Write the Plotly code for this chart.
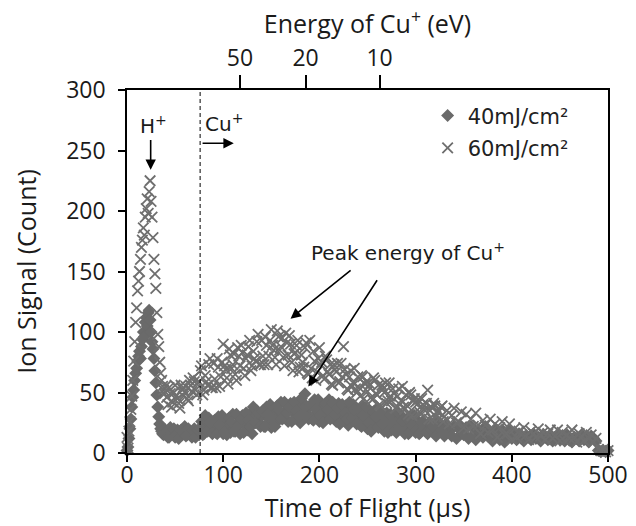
import math
import plotly.graph_objects as go

# ---------------- data ----------------
# time-of-flight sampling: 1 us steps up to 39 us, then 2.5 us steps from 40 to 500 us,
# plus an interleaved set (offset 1.25 us) from 41.25 to 328.75 us
v40_early = [2, 5, 12, 20, 28, 38, 46, 52, 60, 66, 70, 76, 80, 84, 78, 88, 94, 100, 96, 108,
             112, 105, 116, 118, 110, 100, 92, 86, 78, 68, 58, 48, 38, 30, 24, 20, 18, 16, 15, 17]
v60_early = [13, 4, 18, 26, 36, 47, 60, 76, 92, 108, 120, 134, 142, 150, 160, 170, 176, 186, 180, 195,
             202, 210, 198, 216, 225, 208, 195, 178, 160, 148, 136, 116, 98, 88, 75, 66, 60, 55, 52, 49]

v40_late = [19, 13, 21, 16, 13, 19, 17, 15, 22, 15, 18, 13, 20, 17, 15,
            26, 16, 24, 29, 18, 24, 17, 30, 20, 16, 27, 23, 17, 32, 18, 25, 16, 31, 24, 19,
            32, 16, 31, 35, 25, 31, 22, 38, 28, 21, 36, 32, 27, 42, 29, 35, 26, 41, 34, 29,
            41, 25, 39, 49, 32, 38, 28, 44, 33, 26,
            40, 36, 30, 44, 30, 36, 26, 41, 32, 27, 39, 23, 36, 40, 28, 34, 23, 39, 28, 20,
            34, 29, 23, 37, 23, 29, 18, 33, 24, 19, 31, 17, 28, 31, 20, 26, 16, 31, 20, 17,
            26, 17, 26, 20, 16, 24, 21, 17, 26, 18, 20, 14, 23, 18, 14, 22, 12, 20, 22, 15,
            21, 12, 22, 15, 11, 19, 17, 13, 22, 14, 16, 10, 19, 14, 11, 19, 9, 16, 19, 12,
            15, 11, 16, 12, 10, 14, 13, 11, 16, 12, 13, 10, 15, 13, 11, 15, 10, 13, 15, 11,
            14, 10, 15, 11, 9, 13, 12, 10, 15, 11, 13, 9, 14, 12, 10, 2, 1, 2, 1, 2]
v60_late = [55, 40, 49, 42, 56, 45, 37, 53, 50, 45, 60, 51, 59, 48, 59,
            72, 52, 59, 73, 54, 74, 54, 71, 63, 90, 69, 57, 81, 73, 65, 87, 72, 83, 64, 81,
            93, 72, 78, 92, 73, 93, 73, 89, 80, 102, 85, 73, 96, 88, 79, 99, 81, 90, 68, 83,
            93, 71, 75, 87, 66, 93, 62, 76, 67, 87,
            75, 61, 77, 65, 57, 73, 67, 58, 74, 88, 65, 52, 68, 58, 53, 63, 47, 63, 57, 51,
            57, 44, 60, 48, 40, 56, 50, 41, 58, 43, 49, 37, 53, 43, 38, 48, 32, 48, 43, 42,
            44, 33, 40, 35, 52, 35, 28, 39, 34, 29, 39, 30, 35, 24, 31, 37, 25, 26, 34, 21,
            32, 20, 28, 22, 33, 23, 16, 27, 23, 17, 28, 19, 24, 13, 21, 26, 15, 16, 24, 11,
            20, 13, 18, 15, 21, 15, 11, 18, 16, 13, 20, 14, 17, 11, 16, 19, 12, 14, 19, 10,
            17, 10, 15, 12, 19, 13, 9, 16, 14, 10, 17, 12, 15, 9, 12, 3, 2, 3, 1, 2]

v40_mid = [18, 13, 17, 20, 15, 12, 19, 17, 14, 20, 16, 18, 13, 19,
           20, 15, 31, 18, 25, 16, 27, 16, 23, 31, 18, 15, 29, 25, 18, 32, 23, 28, 17, 33,
           27, 22, 38, 25, 33, 22, 35, 22, 32, 40, 28, 22, 39, 35, 28, 42, 33, 38, 26, 42,
           35, 30, 45, 32, 39, 28, 40, 27, 36, 44,
           31, 25, 41, 36, 28, 42, 32, 37, 24, 40, 33, 28, 42, 29, 36, 24, 36, 22, 31, 38,
           25, 18, 34, 30, 21, 35, 24, 29, 17, 32, 25, 19, 34, 21, 27, 16, 28, 17, 23, 31,
           19, 16, 25, 22, 17, 25, 19, 22, 14, 24, 19, 16]
v60_mid = [46, 54, 38, 50, 47, 41, 56, 47, 55, 43, 56, 62, 52, 58,
           68, 48, 64, 56, 78, 54, 61, 78, 55, 75, 72, 62, 86, 70, 82, 60, 80, 89, 70, 78,
           88, 68, 84, 76, 98, 73, 80, 96, 73, 93, 89, 79, 101, 85, 95, 72, 91, 97, 75, 82,
           89, 67, 81, 71, 91, 65, 70, 84, 60, 78,
           73, 64, 80, 67, 73, 56, 69, 74, 59, 63, 69, 53, 63, 55, 70, 50, 54, 64, 45, 59,
           55, 46, 62, 49, 56, 39, 53, 58, 43, 47, 53, 37, 47, 40, 55, 36, 39, 50, 31, 45,
           40, 34, 45, 36, 41, 28, 38, 41, 30, 34, 38, 26]

t_early = list(range(len(v40_early)))
t_late = [40 + 2.5 * i for i in range(len(v40_late))]
t_mid = [41.25 + 2.5 * i for i in range(len(v40_mid))]
t_all = t_early + t_late + t_mid
v40 = v40_early + v40_late + v40_mid
v60 = v60_early + v60_late + v60_mid

series_names = ["40mJ/cm\u00b2", "60mJ/cm\u00b2"]

# top axis: energy of Cu+ for a given flight time
energy_ticks_eV = [50, 20, 10]
FLIGHT_LENGTH_M = 1.447
CU_MASS_KG = 63.55 * 1.6605e-27
E_CHARGE = 1.602e-19
energy_tick_t = [FLIGHT_LENGTH_M * math.sqrt(CU_MASS_KG / (2 * E_CHARGE * e)) * 1e6 for e in energy_ticks_eV]

cu_onset_t = 76

# ---------------- figure ----------------
GRAY_D = "#6a6a6a"
GRAY_X = "#6f6f6f"
TICK_FONT = dict(family="Open Sans", size=23, color="#1a1a1a")
TITLE_FONT = dict(family="Open Sans", size=25, color="#1a1a1a")
ANN_FONT = dict(family="DejaVu Sans", size=20, color="#1a1a1a")

fig = go.Figure()
fig.add_trace(go.Scatter(
    x=t_all, y=v40, mode="markers", name=series_names[0], legendgroup="a",
    marker=dict(symbol="diamond", size=10, color=GRAY_D, line=dict(width=0)),
    cliponaxis=False))
fig.add_trace(go.Scatter(
    x=t_all, y=v60, mode="markers", name=series_names[1], legendgroup="b",
    marker=dict(symbol="x-thin", size=10.5, color=GRAY_X, line=dict(width=1.8, color=GRAY_X)),
    cliponaxis=False))
# carrier for the top (energy) axis; draws nothing
fig.add_trace(go.Scatter(
    x=energy_tick_t, y=[None] * len(energy_tick_t), xaxis="x2", yaxis="y",
    mode="markers", showlegend=False, hoverinfo="skip"))

fig.update_layout(
    width=636, height=526,
    margin=dict(l=127, r=28, t=90, b=73),
    paper_bgcolor="white", plot_bgcolor="white",
    showlegend=True,
    legend=dict(x=0.625, y=0.985, xanchor="left", yanchor="top",
                font=dict(family="DejaVu Sans", size=21, color="#222"),
                bgcolor="rgba(0,0,0,0)", traceorder="grouped", tracegroupgap=2),
    xaxis=dict(range=[0, 500], tickvals=[0, 100, 200, 300, 400, 500],
               ticks="outside", ticklen=7, tickwidth=1.5, tickcolor="black",
               showline=True, linecolor="black", linewidth=1.5, mirror=False,
               showgrid=False, zeroline=False, tickfont=TICK_FONT,
               ticklabelstandoff=-6,
               title=dict(text="Time of Flight (\u00b5s)", font=TITLE_FONT, standoff=10),
               automargin=False),
    xaxis2=dict(range=[0, 500], overlaying="x", side="top", anchor="y",
                tickvals=energy_tick_t, ticktext=[str(e) for e in energy_ticks_eV],
                ticks="outside", ticklen=13, tickwidth=1.5, tickcolor="black",
                showline=True, linecolor="black", linewidth=1.5,
                showgrid=False, zeroline=False, tickfont=TICK_FONT,
                ticklabelstandoff=0,
                title=dict(text="Energy of Cu<sup>+</sup> (eV)", font=TITLE_FONT, standoff=0),
                automargin=False),
    yaxis=dict(range=[0, 300], tickvals=[0, 50, 100, 150, 200, 250, 300],
               ticks="outside", ticklen=7, tickwidth=1.5, tickcolor="black",
               showline=True, linecolor="black", linewidth=1.5, mirror=True,
               showgrid=False, zeroline=False, tickfont=TICK_FONT,
               ticklabelstandoff=8,
               title=dict(text="Ion Signal (Count)", font=TITLE_FONT, standoff=22),
               automargin=False),
)

# dashed line marking Cu+ onset
fig.add_shape(type="line", xref="x", yref="y", x0=cu_onset_t, x1=cu_onset_t, y0=0, y1=300,
              line=dict(color="black", width=1, dash="4px,3px"), layer="above")

# text labels
fig.add_annotation(x=28, y=271, xref="x", yref="y", text="H<sup>+</sup>", showarrow=False, font=ANN_FONT)
fig.add_annotation(x=101, y=273, xref="x", yref="y", text="Cu<sup>+</sup>", showarrow=False, font=ANN_FONT)
fig.add_annotation(x=292, y=166, xref="x", yref="y", text="Peak energy of Cu<sup>+</sup>",
                   showarrow=False, font=ANN_FONT)

# arrows (head at x,y ; tail at ax,ay)
arrows = [
    (24.6, 234, 24.6, 260),
    (111, 256, 77, 256),
    (170, 111, 234, 152),
    (188.5, 55, 261, 144),
]
for hx, hy, tx, ty in arrows:
    fig.add_annotation(x=hx, y=hy, ax=tx, ay=ty, xref="x", yref="y", axref="x", ayref="y",
                       text="", showarrow=True, arrowhead=2, arrowsize=1.3, arrowwidth=1.6,
                       arrowcolor="black", standoff=0, startstandoff=0)

fig.write_html("out.html")
